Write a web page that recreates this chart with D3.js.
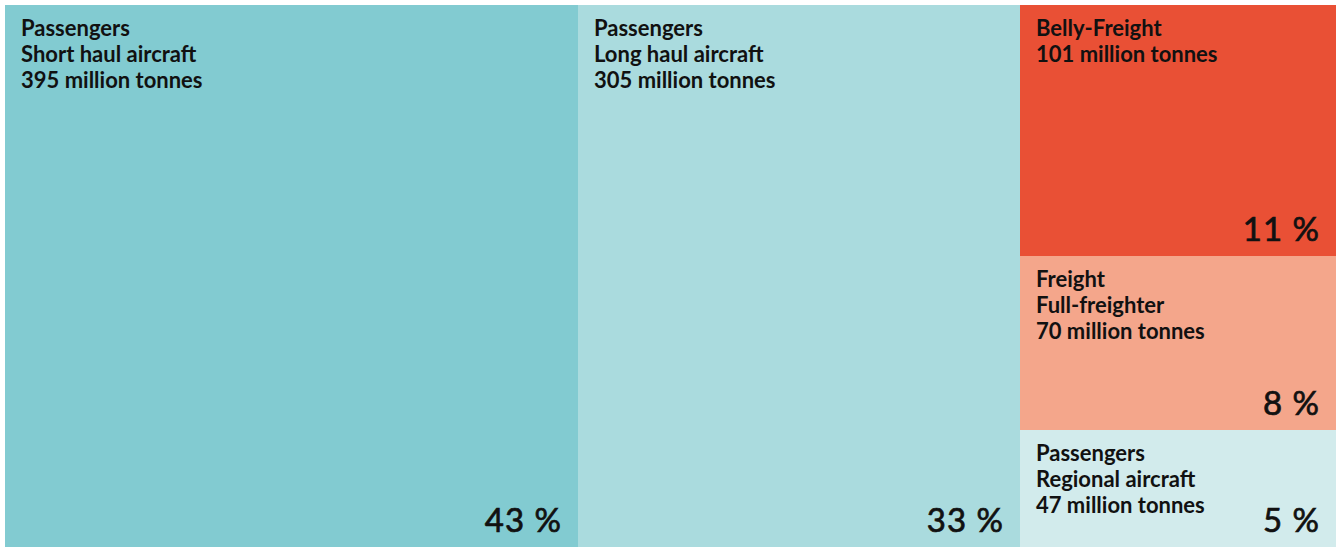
<!DOCTYPE html>
<html>
<head>
<meta charset="utf-8">
<script src="https://cdn.jsdelivr.net/npm/d3@7"></script>
<style>
  body { margin: 0; background: #fff; }
  svg { display: block; }
  .label { font-family: Lato, "Noto Sans", sans-serif; font-weight: 700; font-size: 22px; fill: #111; }
  .pct { font-family: Lato, "Noto Sans", sans-serif; font-weight: 400; font-size: 33px; fill: #111; stroke: #111; stroke-width: 0.7px; letter-spacing: 1px; }
</style>
</head>
<body>
<script>
// segments of the treemap (million tonnes CO2)
var groups = ["Passengers", "Passengers", "Belly-Freight", "Freight", "Passengers"];
var subLabels = ["Short haul aircraft", "Long haul aircraft", null, "Full-freighter", "Regional aircraft"];
var tonnes = [395, 305, 101, 70, 47];
var percents = ["43 %", "33 %", "11 %", "8 %", "5 %"];
var colors = ["#82cbd1", "#aadbde", "#e95035", "#f4a68b", "#d2ebec"];

var width = 1340, height = 547;

// first two stand alone, the last three stack in the right column
var leaves = tonnes.map(function(v, i) {
  return { idx: i, value: v };
});
var data = {
  children: [
    leaves[0],
    leaves[1],
    { children: [leaves[2], leaves[3], leaves[4]] }
  ]
};

var root = d3.hierarchy(data)
  .sum(function(d) { return d.children ? 0 : d.value; });

d3.treemap()
  .tile(d3.treemapSliceDice)
  .size([1331, 542])
  .round(true)(root);

var svg = d3.select("body").append("svg")
  .attr("width", width)
  .attr("height", height);

var g = svg.append("g").attr("transform", "translate(5,5)");

var cell = g.selectAll("g.cell")
  .data(root.leaves())
  .enter().append("g")
  .attr("class", "cell")
  .attr("transform", function(d) { return "translate(" + d.x0 + "," + d.y0 + ")"; });

cell.append("rect")
  .attr("width", function(d) { return d.x1 - d.x0; })
  .attr("height", function(d) { return d.y1 - d.y0; })
  .style("fill", function(d) { return colors[d.data.idx]; });

// label lines
cell.each(function(d) {
  var i = d.data.idx;
  var lines = [groups[i]];
  if (subLabels[i]) lines.push(subLabels[i]);
  lines.push(tonnes[i] + " million tonnes");
  var t = d3.select(this).append("text")
    .attr("class", "label")
    .attr("x", 16);
  t.selectAll("tspan")
    .data(lines)
    .enter().append("tspan")
    .attr("x", 16)
    .attr("y", function(s, k) { return 31 + k * 26; })
    .text(function(s) { return s; });
});

// percentages in the bottom right corner
cell.append("text")
  .attr("class", "pct")
  .attr("text-anchor", "end")
  .attr("x", function(d) { return d.x1 - d.x0 - 16; })
  .attr("y", function(d) { return d.y1 - d.y0 - 15; })
  .text(function(d) { return percents[d.data.idx]; });
</script>
</body>
</html>
